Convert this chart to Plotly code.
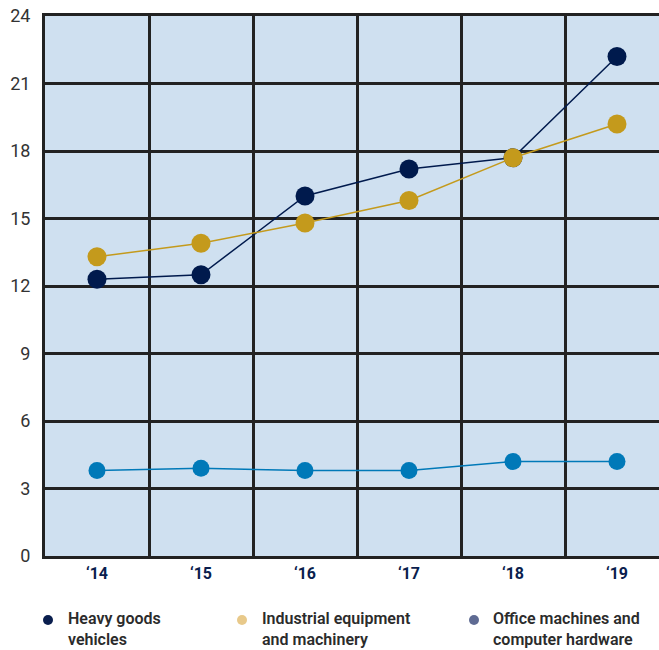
import plotly.graph_objects as go

# Years and series values
years = ["\u201814", "\u201815", "\u201816", "\u201817", "\u201818", "\u201819"]
heavy_goods = [12.3, 12.5, 16.0, 17.2, 17.7, 22.2]
industrial = [13.3, 13.9, 14.8, 15.8, 17.7, 19.2]
office = [3.8, 3.9, 3.8, 3.8, 4.2, 4.2]
y_ticks = [0, 3, 6, 9, 12, 15, 18, 21, 24]

series_names = [
    "Heavy goods<br>vehicles",
    "Industrial equipment<br>and machinery",
    "Office machines and<br>computer hardware",
]
line_colors = ["#001a4d", "#c49a1c", "#0079b8"]
legend_colors = ["#0a1e4e", "#e8c98a", "#5f6b93"]
marker_sizes = [19, 19, 17]

W, H = 659, 650
M_L, M_R, M_T, M_B = 45, 0, 16, 94
plot_w = W - M_L - M_R
plot_h = H - M_T - M_B
cell_px = 104

x = list(range(len(years)))
cell_edges = [i - 0.5 for i in range(len(years) + 1)]

fig = go.Figure()

for name, vals, color, size in zip(series_names, [heavy_goods, industrial, office], line_colors, marker_sizes):
    fig.add_trace(go.Scatter(
        x=x, y=vals, mode="lines+markers", name=name.replace("<br>", " "),
        line=dict(color=color, width=1.5),
        marker=dict(color=color, size=size),
        showlegend=False, hoverinfo="y",
    ))


def px_x(px):
    return (px - M_L) / plot_w


def px_y(py):
    return (M_T + plot_h - py) / plot_h


# Legend row beneath the chart: dot swatch + two-line label
legend_dot_x = [48, 242, 474]
legend_text_x = [67, 261, 492]
legend_row_y = 620
shapes = []
annotations = []
for name, color, dx, tx in zip(series_names, legend_colors, legend_dot_x, legend_text_x):
    shapes.append(dict(
        type="circle", xref="paper", yref="paper",
        xsizemode="pixel", ysizemode="pixel",
        xanchor=px_x(dx), yanchor=px_y(legend_row_y),
        x0=-5, x1=5, y0=-5, y1=5,
        fillcolor=color, line=dict(width=0),
    ))
    annotations.append(dict(
        xref="paper", yref="paper", x=px_x(tx), y=px_y(legend_row_y - 12),
        xanchor="left", yanchor="top", align="left", showarrow=False,
        borderpad=0,
        text=name,
        font=dict(size=16, color="#2b2b2b", family="Roboto, Arial, sans-serif", weight=600),
    ))

fig.update_layout(
    width=W, height=H,
    margin=dict(l=M_L, r=M_R, t=M_T, b=M_B),
    paper_bgcolor="white",
    plot_bgcolor="#cfe0f0",
    font=dict(family="Roboto, Arial, sans-serif", color="#333333"),
    showlegend=False,
    shapes=shapes,
    annotations=annotations,
    xaxis=dict(
        range=[-0.5, -0.5 + plot_w / cell_px],
        tickvals=x, ticktext=years,
        tickfont=dict(size=16, color="#0a1e4e", weight="bold"),
        ticks="outside", ticklen=1, tickcolor="rgba(0,0,0,0)",
        showgrid=False, zeroline=False,
        showline=True, linecolor="#222222", linewidth=3, mirror=True,
        minor=dict(tickvals=cell_edges, showgrid=True, gridcolor="#222222", gridwidth=3, ticks=""),
        fixedrange=True,
    ),
    yaxis=dict(
        range=[0, 24],
        tickvals=y_ticks,
        tickfont=dict(size=18, color="#333333"),
        ticks="outside", ticklen=8, tickcolor="rgba(0,0,0,0)",
        showgrid=True, gridcolor="#222222", gridwidth=3,
        zeroline=False,
        showline=True, linecolor="#222222", linewidth=3,
        fixedrange=True,
    ),
)

fig.write_html("out.html")
